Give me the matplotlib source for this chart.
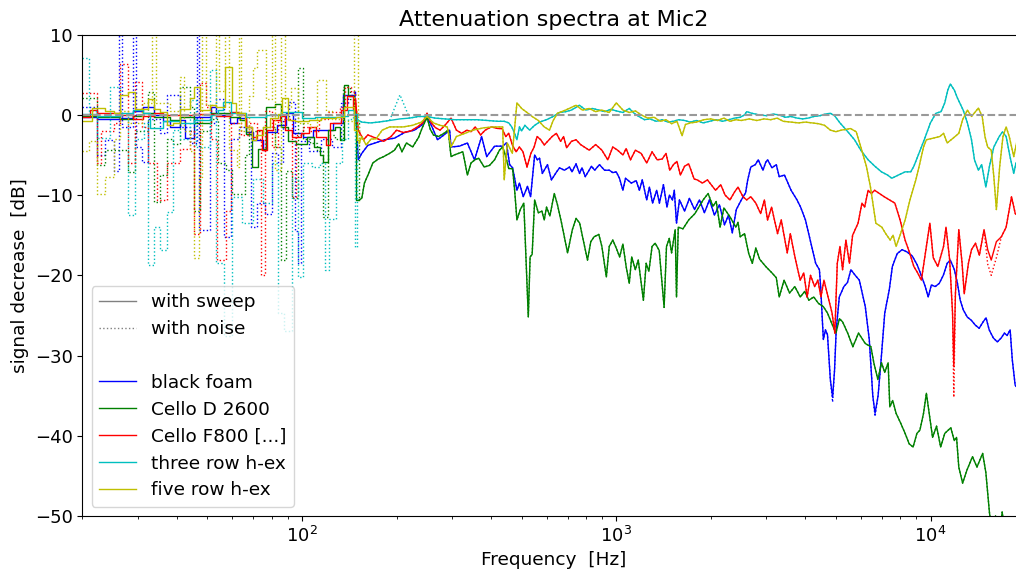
#!/usr/bin/env python3
"""Attenuation spectra at Mic2: sweep vs. noise excitation for five absorbers."""

import matplotlib

matplotlib.use("Agg")
import matplotlib.pyplot as plt
from matplotlib.lines import Line2D

# (frequency [Hz], signal decrease [dB]).
# "_LO" parts are drawn as steps (coarse bins), "_HI" parts as lines.

BLUE_SWEEP_LO = [
    (20, -0.3), (22.2, -0.55), (26.3, -0.4), (29, 0.5), (31.2, 1.0), (33.7, 0.0),
    (36.1, -0.8), (38, -1.5), (40.8, -0.6), (42.4, -2.9), (45.5, -0.3), (51.5, 1.0),
    (53.4, 0.0), (58.9, -1.0), (61.9, -0.4), (66.6, -2.1), (70, -3.1), (75.2, -4.4),
    (77.1, -2.1), (83, -1.2), (89.2, 0.2), (93.6, -2.2), (100.7, -2.7),
    (108.5, -1.9), (125.5, -1.0), (135.1, 2.5),
]
BLUE_SWEEP_HI = [
    (147, 2.9), (151, -5.6), (155, -4.8), (162, -3.8), (171, -3.5), (183, -3.1),
    (197, -2.9), (212, -2.2), (228, -1.9), (240, -1.3), (250, -0.3), (258, -1.3),
    (270, -3.1), (283, -2.5), (295, -1.9), (298, -4.0), (317, -3.9), (336, -3.5),
    (354, -5.6), (373, -2.7), (387, -5.2), (410, -3.9), (435, -3.9), (447, -3.5),
    (458, -6.2), (468, -6.6), (483, -9.4), (492, -8.5), (506, -10.2), (522, -8.9),
    (534, -10.2), (550, -5.0), (561, -5.6), (570, -5.4), (582, -7.3), (604, -6.2),
    (622, -8.1), (646, -7.1), (660, -6.6), (684, -6.9), (710, -6.5), (723, -7.1),
    (745, -6.1), (764, -7.3), (778, -6.6), (797, -7.7), (834, -6.4), (854, -6.9),
    (884, -6.2), (918, -6.9), (951, -6.9), (975, -7.2), (1000, -7.1), (1024, -7.9),
    (1050, -9.4), (1070, -7.9), (1117, -8.5), (1157, -8.2), (1185, -9.4),
    (1210, -8.1), (1250, -10.6), (1275, -9.0), (1305, -11.0), (1345, -9.4),
    (1372, -11.0), (1413, -8.7), (1450, -11.5), (1476, -10.0), (1510, -10.6),
    (1530, -9.4), (1555, -13.5), (1589, -10.6), (1650, -12.0), (1709, -10.4),
    (1775, -11.8), (1839, -10.6), (1908, -12.2), (1979, -10.6), (2053, -12.5),
    (2129, -11.2), (2210, -13.7), (2276, -12.5), (2340, -14.7), (2410, -11.8),
    (2500, -10.6), (2580, -9.7), (2620, -8.1), (2680, -6.5), (2770, -6.2),
    (2830, -5.6), (2930, -6.9), (2990, -5.9), (3030, -5.6), (3130, -6.6),
    (3230, -6.2), (3300, -7.7), (3430, -7.5), (3600, -9.4), (3760, -10.6),
    (3860, -11.5), (4000, -13.1), (4140, -15.6), (4310, -18.5), (4430, -19.3),
    (4470, -21.4), (4560, -28.0), (4630, -26.8), (4700, -27.4), (4800, -33.0),
    (4880, -35.2), (4950, -31.8), (5010, -26.8), (5125, -22.7), (5300, -21.4),
    (5440, -20.9), (5580, -19.3), (5760, -20.0), (5934, -20.6), (6200, -23.9),
    (6384, -28.0), (6550, -35.0), (6660, -37.2), (6810, -35.0), (6950, -30.9),
    (7150, -24.7), (7391, -21.8), (7560, -18.9), (7830, -17.3), (8120, -16.8),
    (8430, -17.1), (8750, -17.6), (9070, -18.7), (9340, -20.0), (9620, -21.4),
    (9830, -22.7), (10060, -21.2), (10350, -21.4), (10660, -21.0), (10980, -20.0),
    (11300, -18.5), (11560, -18.1), (11910, -19.3), (12180, -21.0), (12430, -23.1),
    (12710, -24.3), (13090, -25.2), (13480, -25.6), (13880, -26.2), (14280, -26.6),
    (14700, -25.8), (15020, -25.3), (15370, -26.8), (15840, -27.8), (16310, -28.3),
    (16790, -27.8), (17180, -27.2), (17520, -27.5), (17920, -26.8), (18200, -30.5),
    (18590, -33.7), (19170, -34.3), (20000, -34.5),
]
BLUE_NOISE_LO = [
    (20, 1.0), (22.2, -5.0), (23.6, -3.1), (25.2, -7.0), (26.1, 12.0), (26.7, -1.5),
    (29.1, 12.0), (29.7, -4.0), (30.9, -5.9), (32.4, -0.5), (35.3, -2.3), (37.1, 2.5),
    (40.8, -1.5), (43.9, -3.5), (46.3, 12.0), (47.0, -14.3), (50.9, -1.0), (53.4, 2.0),
    (56.5, -15.2), (59.5, -3.0), (63, -1.5), (69, -14.0), (72, -11.0), (76, -12.3),
    (80, -4.8), (84, -6.0), (87, -0.5), (91, 1.6), (95, -14.5), (97, -18.5),
    (99.5, -3.3), (105, -4.5), (115, -3.0), (125, -4.0), (133, 1.5), (140, 2.5),
]
BLUE_NOISE_EDITS = {4880: -35.8, 6660: -37.6}

GREEN_SWEEP_LO = [
    (20, -0.2), (22.2, -0.3), (26.3, -0.5), (29, -0.2), (31.2, 0.2), (33.7, -0.3),
    (38, -0.6), (40.8, -0.3), (45.5, -1.0), (51.5, 0.2), (58.9, -0.3), (63.4, -0.6),
    (66.6, -2.4), (69.5, -6.5), (72.5, -4.2), (77, 1.0), (82, 1.4), (86, -1.5),
    (90, -3.2), (96, -3.6), (104, -2.7), (109, -4.0), (114, -5.0), (117, -5.9),
    (121, -1.9), (127, -1.5), (132, -3.1), (136, 3.7), (140, 2.3), (146, 0.5),
    (149, -10.6),
]
GREEN_SWEEP_HI = [
    (152, -10.6), (155, -10.4), (158, -8.5), (163, -7.3), (168, -6.0), (175, -5.5),
    (182, -5.2), (190, -4.8), (197, -4.4), (203, -3.6), (208, -4.6), (215, -3.5),
    (225, -4.0), (235, -2.8), (242, -1.5), (250, -0.3), (256, -1.8), (262, -2.5),
    (272, -2.7), (283, -2.3), (292, -1.9), (298, -5.2), (305, -5.0), (315, -4.8),
    (325, -4.6), (336, -7.5), (345, -6.0), (355, -5.6), (365, -5.4), (380, -6.5),
    (395, -6.3), (410, -5.6), (425, -4.4), (435, -4.0), (445, -5.2), (455, -6.7),
    (468, -6.7), (475, -9.4), (483, -13.1), (495, -11.8), (508, -11.0), (520, -21.0),
    (525, -25.2), (532, -17.7), (540, -17.4), (550, -10.6), (565, -12.2),
    (580, -12.0), (590, -13.1), (600, -11.5), (615, -12.6), (635, -9.8),
    (650, -11.2), (670, -13.5), (700, -17.2), (725, -14.3), (745, -12.9),
    (765, -13.5), (785, -15.6), (810, -18.1), (830, -15.8), (850, -15.2),
    (880, -14.9), (900, -16.4), (930, -20.2), (950, -16.4), (975, -15.6),
    (1000, -16.6), (1025, -17.7), (1050, -16.1), (1075, -18.9), (1100, -21.0),
    (1120, -17.7), (1150, -19.3), (1175, -18.1), (1220, -23.1), (1245, -18.5),
    (1270, -19.5), (1300, -16.4), (1330, -16.0), (1370, -16.9), (1420, -24.0),
    (1445, -16.4), (1475, -15.4), (1500, -17.2), (1540, -14.3), (1555, -22.7),
    (1575, -14.0), (1630, -14.2), (1700, -13.1), (1780, -12.3), (1890, -10.6),
    (1960, -9.8), (2030, -11.4), (2080, -10.8), (2140, -14.0), (2200, -11.6),
    (2300, -12.7), (2400, -14.0), (2440, -13.4), (2480, -15.2), (2560, -14.8),
    (2640, -17.3), (2710, -18.5), (2780, -16.6), (2860, -18.0), (2990, -18.9),
    (3130, -19.7), (3230, -20.3), (3300, -22.7), (3420, -20.6), (3560, -22.2),
    (3700, -21.4), (3850, -22.7), (3980, -22.0), (4100, -23.1), (4250, -22.7),
    (4400, -23.5), (4560, -23.9), (4700, -24.7), (4850, -26.0), (5000, -27.2),
    (5130, -25.4), (5250, -25.8), (5450, -27.2), (5660, -28.9), (5900, -27.2),
    (6200, -28.5), (6460, -28.9), (6600, -30.9), (6800, -33.0), (6980, -30.9),
    (7150, -32.1), (7330, -30.9), (7420, -36.4), (7580, -35.6), (7770, -37.2),
    (8030, -38.4), (8300, -39.7), (8550, -41.0), (8800, -41.4), (9050, -39.7),
    (9250, -39.3), (9500, -37.2), (9700, -34.7), (9900, -37.2), (10150, -40.2),
    (10450, -38.8), (10770, -41.4), (11100, -39.7), (11600, -39.0), (11900, -40.6),
    (12100, -40.2), (12300, -43.9), (12650, -45.9), (13050, -44.3), (13600, -42.6),
    (14050, -43.9), (14650, -42.2), (15000, -44.6), (15400, -49.6), (15700, -52.0),
    (16100, -50.0), (16500, -53.0), (16900, -49.5), (17300, -52.5), (17700, -50.5),
    (18100, -53.0), (18600, -51.5), (19500, -54.0),
]
GREEN_NOISE_LO = [
    (20, 2.1), (22.2, -6.2), (23.6, -4.4), (28, -7.1), (29.4, -2.0), (32.4, 2.9),
    (33.7, -10.8), (35.3, -7.5), (37.1, -3.0), (38.9, -3.6), (40.8, 3.5), (43.9, 1.0),
    (45.5, -12.0), (47.3, -2.0), (51, -0.5), (54, -6.0), (57.5, -6.9), (60, -9.8),
    (66, -5.0), (68, -2.0), (75, -1.5), (82, -4.0), (86, -18.1), (89, -7.0),
    (93, -10.3), (97, 5.8), (101, -3.0), (106, -3.5), (112, -4.5), (117, -12.7),
    (121, -2.5), (127, -3.0), (135, 3.5), (142, 2.0), (147, -1.0),
]

RED_SWEEP_LO = [
    (20, -0.3), (21.2, 0.6), (22.2, 0.2), (26.3, 0.0), (29, -0.55), (31.2, -0.2),
    (33.7, 0.2), (36.1, 0.0), (45.5, 0.1), (53.4, -0.1), (58.9, 0.4), (63, 0.0),
    (66.6, -1.5), (69.5, -2.7), (72, -1.9), (74.5, -4.4), (77.5, -1.9), (81, -0.6),
    (85, -0.2), (88, -1.9), (93, -2.7), (99, -2.3), (105, -1.5), (111, -2.7),
    (119, -3.7), (123, -1.0), (133, 0.6), (139, 2.3), (145, 0.6),
]
RED_SWEEP_HI = [
    (148, 1.9), (151, -1.9), (157, -3.1), (162, -2.5), (172, -2.9), (182, -3.3),
    (192, -2.7), (200, -1.9), (210, -2.2), (222, -2.0), (233, -1.5), (242, -1.0),
    (250, 0.2), (258, -1.0), (266, -1.6), (275, -1.9), (285, -1.3), (298, -0.4),
    (310, -1.9), (322, -2.3), (335, -1.9), (345, -2.1), (356, -1.5), (370, -2.5),
    (383, -1.9), (400, -1.5), (420, -1.7), (433, -1.7), (445, -2.7), (455, -2.3),
    (467, -3.75), (480, -4.6), (492, -4.0), (505, -4.6), (520, -6.5), (535, -4.8),
    (548, -4.0), (560, -2.7), (575, -3.1), (590, -3.75), (605, -3.3), (625, -2.7),
    (645, -2.3), (665, -3.3), (680, -2.7), (695, -4.1), (720, -3.3), (745, -3.1),
    (770, -3.7), (820, -4.4), (860, -3.7), (900, -4.4), (940, -5.6), (975, -4.0),
    (1010, -4.4), (1050, -5.0), (1075, -4.2), (1110, -5.6), (1150, -4.4),
    (1200, -4.8), (1250, -6.0), (1300, -4.6), (1350, -5.6), (1400, -5.5),
    (1440, -4.8), (1480, -6.9), (1520, -6.2), (1560, -5.8), (1600, -7.5),
    (1650, -6.4), (1700, -6.1), (1770, -8.0), (1810, -8.1), (1880, -8.5),
    (1950, -8.1), (2070, -9.4), (2150, -8.7), (2220, -10.0), (2300, -10.6),
    (2380, -9.6), (2440, -9.0), (2530, -10.2), (2600, -10.6), (2680, -10.2),
    (2780, -11.0), (2880, -12.3), (2960, -10.6), (3030, -13.1), (3120, -11.5),
    (3260, -14.8), (3350, -13.1), (3500, -17.2), (3580, -14.8), (3680, -17.2),
    (3760, -18.9), (3850, -20.6), (3950, -19.7), (4050, -22.7), (4150, -20.0),
    (4280, -21.4), (4380, -20.6), (4480, -22.7), (4580, -20.6), (4720, -22.7),
    (4860, -24.7), (4960, -27.2), (5050, -18.5), (5150, -16.4), (5250, -19.3),
    (5380, -15.6), (5520, -18.5), (5650, -15.0), (5880, -13.5), (6050, -11.0),
    (6170, -11.5), (6330, -9.4), (6480, -9.8), (6640, -9.4), (6880, -9.8),
    (7120, -10.2), (7400, -10.6), (7700, -11.0), (8000, -13.1), (8300, -15.6),
    (8580, -17.2), (8850, -18.9), (9100, -19.7), (9350, -20.6), (9650, -17.0),
    (9950, -13.5), (10200, -17.8), (10550, -18.9), (11000, -16.4), (11200, -14.0),
    (11500, -18.0), (11750, -24.7), (11860, -31.4), (12000, -22.3), (12300, -14.3),
    (12600, -18.5), (12800, -22.3), (13200, -18.5), (13500, -16.8), (13900, -16.0),
    (14300, -17.5), (14800, -14.3), (15200, -16.8), (15600, -18.1), (16200, -15.8),
    (16800, -15.2), (17400, -14.0), (18100, -10.2), (18600, -12.3), (19500, -13.0),
]
RED_NOISE_LO = [
    (20, 2.7), (22.2, -6.0), (23, -2.0), (25.2, -1.0), (26.3, 6.4), (28, -6.0),
    (29.4, 4.1), (30.9, -1.5), (32.4, -6.0), (34.5, -10.6), (37.1, -6.0),
    (40.8, -4.2), (43.9, -2.0), (45.5, -14.8), (47.3, 4.0), (49.5, 1.0), (51.5, -3.0),
    (53.8, -18.1), (57.5, -12.0), (59.5, -1.0), (64, -2.5), (68, -1.0), (72, -3.0),
    (74, -20.0), (76, 0.5), (80, -4.0), (84, -0.8), (88, -0.5), (93, -10.2),
    (96, -2.5), (101, -1.5), (106, -2.0), (113, -0.5), (121, 0.4), (132, 1.0),
    (137, 3.5), (143, 2.8),
]
RED_NOISE_EDITS = {11860: -35.2, 15200: -18.6, 15600: -20.0, 16200: -17.8}

CYAN_SWEEP_LO = [
    (20, 0.1), (22.2, -0.1), (26.3, 0.2), (29, 0.6), (31.2, 0.2), (32.8, -1.6),
    (36.1, -0.8), (38, -0.7), (40.8, -1.0), (45.5, -0.6), (51.5, 0.0), (54, 0.6),
    (56, 1.6), (59.5, 0.2), (66.6, -0.3), (77, 0.0), (86, 0.4), (91, 0.3),
    (100, -0.4), (110, -0.3), (121, -0.3), (133, -0.2), (140, 0.6), (146, 0.1),
]
CYAN_SWEEP_HI = [
    (150, -0.6), (155, -0.9), (165, -1.0), (175, -0.9), (190, -0.7), (205, -0.5),
    (220, -0.4), (235, -0.2), (250, -0.2), (265, -0.4), (285, -0.5), (305, -0.6),
    (330, -0.6), (360, -0.6), (390, -0.7), (420, -0.8), (440, -0.8), (455, -1.0),
    (465, -1.5), (475, -2.3), (483, -3.1), (492, -1.5), (500, -2.0), (512, -1.3),
    (530, -1.9), (550, -1.3), (570, -0.9), (600, -0.6), (630, -0.2), (660, 0.3),
    (690, 0.4), (720, 0.6), (764, 1.2), (800, 0.6), (840, 0.8), (880, 0.6),
    (920, 0.4), (960, 0.7), (1000, 0.5), (1050, 0.3), (1100, 0.8), (1140, 0.2),
    (1180, -0.2), (1230, -0.6), (1280, -0.5), (1340, -0.8), (1400, -0.6),
    (1460, -0.9), (1520, -0.8), (1580, -0.6), (1650, -0.7), (1720, -0.9),
    (1800, -0.7), (1890, -1.0), (1980, -0.8), (2080, -0.6), (2180, -0.8),
    (2280, -0.6), (2380, -0.4), (2480, -0.3), (2560, 0.0), (2600, 0.4), (2700, 0.2),
    (2850, 0.0), (3000, -0.1), (3150, 0.1), (3300, 0.0), (3450, -0.3), (3600, -0.2),
    (3760, -0.4), (3920, -0.5), (4080, -0.4), (4250, -0.2), (4450, -0.1),
    (4620, 0.1), (4800, 0.2), (4950, -0.1), (5150, -1.0), (5400, -1.9),
    (5730, -3.1), (6000, -4.4), (6330, -5.6), (6650, -6.4), (6980, -7.1),
    (7300, -7.5), (7530, -7.9), (7900, -7.5), (8300, -7.1), (8650, -7.1),
    (8850, -6.4), (9100, -5.2), (9550, -3.1), (9990, -1.0), (10400, 0.2),
    (10800, 0.4), (11100, 1.5), (11350, 3.1), (11560, 3.85), (11900, 3.1),
    (12180, 2.1), (12700, 0.6), (13100, -1.0), (13500, -3.1), (13800, -5.6),
    (14200, -6.9), (14550, -6.2), (14850, -8.1), (15000, -9.0), (15400, -6.4),
    (15900, -4.0), (16540, -2.7), (16950, -2.1), (17400, -2.7), (17900, -5.2),
    (18400, -7.3), (18700, -6.0), (19500, -6.5),
]
CYAN_NOISE_LO = [
    (20, 7.1), (21, 0.5), (22.2, -2.9), (24.5, 3.5), (26.3, 0.0), (28, -12.5),
    (29.4, -3.0), (31.5, -1.0), (32.4, -18.7), (33.7, -14.0), (35.3, -16.8),
    (37.1, -12.1), (38.9, -1.9), (40.8, -3.0), (43.9, 1.9), (46, -4.0), (50.9, 5.6),
    (53.4, -18.5), (56.5, -27.5), (60, -10.2), (64.5, -13.5), (70, -8.0),
    (75, -11.0), (80, -6.0), (84, -24.7), (87.5, -27.0), (93, -8.0), (97, -20.2),
    (101, -6.0), (108, -6.5), (114, -6.0), (118, -19.3), (122, -13.0), (128, -6.0),
    (134, -3.0), (140, -0.5), (145, 0.5), (148, -16.5),
]
CYAN_NOISE_EDITS = {205: 2.5}

YELLOW_SWEEP_LO = [
    (20, -0.8), (21.5, 0.85), (23.6, 0.5), (25.2, 0.2), (26.3, 2.5), (28, 2.85),
    (29.4, 0.7), (32.4, 2.0), (33.7, 0.7), (35.3, 0.4), (37.1, -1.3), (38.9, -1.0),
    (40.8, 0.7), (43.9, 2.1), (45.5, 3.5), (47.3, 0.6), (50.9, 1.2), (53.4, 1.0),
    (57, 6.0), (59.8, 1.5), (61.5, 0.2), (66, -1.5), (69.5, -3.1), (71.5, -2.5),
    (75, -1.5), (79, -0.4), (84, 0.1), (86.5, 2.1), (90, -0.6), (95, -0.8),
    (105, -0.6), (115, -0.4), (128, -0.3), (136, 1.0), (146, -1.9), (150, -3.1),
]
YELLOW_SWEEP_HI = [
    (152, -3.5), (155, -2.7), (160, -3.75), (166, -3.0), (172, -3.0), (180, -1.9),
    (190, -1.5), (210, -1.5), (225, -1.3), (240, -0.9), (250, -0.2), (262, -1.0),
    (275, -1.3), (290, -1.5), (298, -4.0), (310, -2.7), (330, -2.3), (350, -1.9),
    (380, -1.6), (410, -1.5), (435, -1.5), (440, -8.1), (450, -3.5), (467, -4.8),
    (483, 1.5), (500, 0.8), (520, 0.3), (540, -0.2), (565, -0.7), (590, -1.5),
    (613, -1.9), (630, -0.7), (650, 0.2), (690, 0.6), (745, 1.2), (780, 0.6),
    (820, 0.8), (860, 0.4), (900, 0.6), (950, 0.3), (1000, 1.5), (1050, 0.6),
    (1100, 0.3), (1150, 0.5), (1200, 0.0), (1260, -0.4), (1320, -0.3), (1380, -0.8),
    (1440, -0.6), (1500, -1.1), (1560, -0.8), (1620, -2.6), (1660, -1.2),
    (1720, -1.0), (1800, -0.9), (1900, -0.6), (2000, -0.5), (2100, -0.7),
    (2200, -0.4), (2300, -0.8), (2400, -0.6), (2500, -0.7), (2650, -0.5),
    (2800, -0.7), (2950, -0.5), (3100, -0.6), (3250, -0.4), (3400, -0.8),
    (3600, -0.9), (3800, -1.0), (4000, -0.9), (4200, -1.0), (4400, -1.1),
    (4600, -1.3), (4800, -1.9), (5000, -2.1), (5200, -1.9), (5400, -1.8),
    (5560, -1.7), (5800, -2.1), (6000, -4.0), (6250, -6.4), (6440, -9.0),
    (6600, -11.8), (6700, -13.5), (7000, -14.0), (7200, -14.8), (7440, -15.6),
    (7600, -15.0), (7770, -16.4), (8000, -15.0), (8300, -13.1), (8600, -10.6),
    (8980, -8.1), (9200, -6.4), (9500, -4.0), (9700, -3.1), (10200, -2.9),
    (10700, -2.7), (11000, -2.3), (11300, -3.5), (11800, -2.9), (12300, -2.3),
    (12650, -0.6), (13100, 0.6), (13500, -0.2), (14200, 0.85), (14600, -0.2),
    (14900, -2.7), (15200, -4.0), (15600, -4.4), (15900, -7.7), (16200, -11.8),
    (16600, -6.4), (17000, -2.7), (17400, -1.5), (17800, -2.7), (18400, -5.2),
    (18900, -3.0), (19500, -3.5),
]
YELLOW_NOISE_LO = [
    (20, -4.5), (21, -3.3), (22.2, -9.8), (23.6, -7.7), (25.2, -3.0), (26.3, 0.5),
    (28, -1.0), (30.9, 1.5), (33.4, 12.0), (34.2, 1.5), (38, 0.5), (40.8, 4.7),
    (42, -2.0), (43.9, -4.5), (45.5, -17.9), (47, -7.7), (48, 12.0), (49.5, 1.2),
    (53.4, 12.0), (54.5, 3.0), (57, 12.0), (58.5, -4.4), (62, -6.5), (63.2, 12.0),
    (64.2, -2.0), (68, 2.3), (70, 5.9), (72, 8.1), (77, 2.0), (80, 12.0), (82, -6.9),
    (86, 12.0), (88, 1.0), (92, 3.4), (97, -1.0), (106, -1.5), (112, 4.3),
    (119, 0.5), (125, -0.5), (135, -0.8), (146, 12.0), (151, -1.5),
]

MATERIALS = ["black foam", "Cello D 2600", "Cello F800 [...]",
             "three row h-ex", "five row h-ex"]
COLORS = ["b", "g", "r", "c", "y"]


def split(pairs):
    return [p[0] for p in pairs], [p[1] for p in pairs]


def draw_curve(ax, lo, hi, color, style, edits=None):
    hi_f, hi_db = split(hi)
    if edits:
        hi_db = [edits.get(f, v) for f, v in zip(hi_f, hi_db)]
    lo_f, lo_db = split(lo)
    ax.plot(lo_f + hi_f[:1], lo_db + hi_db[:1], color=color, ls=style, lw=1.0,
            drawstyle="steps-post")
    ax.plot(hi_f, hi_db, color=color, ls=style, lw=1.0)


def main():
    series = [
        (BLUE_SWEEP_LO, BLUE_SWEEP_HI, BLUE_NOISE_LO, BLUE_NOISE_EDITS),
        (GREEN_SWEEP_LO, GREEN_SWEEP_HI, GREEN_NOISE_LO, None),
        (RED_SWEEP_LO, RED_SWEEP_HI, RED_NOISE_LO, RED_NOISE_EDITS),
        (CYAN_SWEEP_LO, CYAN_SWEEP_HI, CYAN_NOISE_LO, CYAN_NOISE_EDITS),
        (YELLOW_SWEEP_LO, YELLOW_SWEEP_HI, YELLOW_NOISE_LO, None),
    ]

    fig = plt.figure(figsize=(10.16, 5.71), dpi=100)
    ax = fig.add_axes([0.081, 0.0963, 0.928, 0.843])

    for (s_lo, s_hi, n_lo, edits), color in zip(series, COLORS):
        draw_curve(ax, s_lo, s_hi, color, "-")
        draw_curve(ax, n_lo, s_hi, color, ":", edits)

    ax.axhline(0, color="0.6", ls="--", lw=1.5)

    ax.set_xscale("log")
    ax.set_xlim(20, 20000)
    ax.set_ylim(-50, 10)
    ax.tick_params(labelsize=13)
    ax.set_xlabel("Frequency  [Hz]", fontsize=13.3)
    ax.set_ylabel("signal decrease  [dB]", fontsize=13.3)
    ax.set_title("Attenuation spectra at Mic2", fontsize=16)

    handles = [
        Line2D([], [], color="gray", ls="-", lw=1.0),
        Line2D([], [], color="gray", ls=":", lw=1.0),
        Line2D([], [], color="none"),
    ] + [Line2D([], [], color=c, lw=1.0) for c in COLORS]
    labels = ["with sweep", "with noise", ""] + MATERIALS
    ax.legend(handles, labels, loc="lower left", fontsize=13.3, labelspacing=0.48)

    fig.savefig("out.png", dpi=100)


if __name__ == "__main__":
    main()
